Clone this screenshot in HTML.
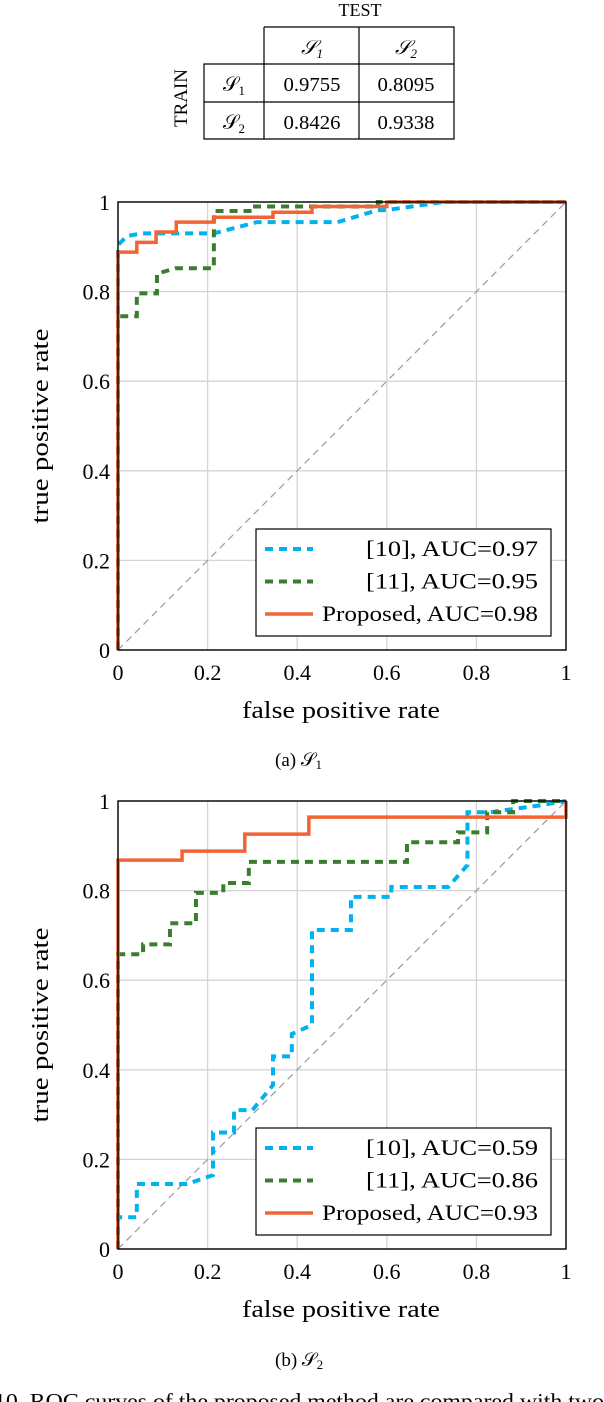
<!DOCTYPE html>
<html><head><meta charset="utf-8"><style>
body{margin:0;background:#fff;width:604px;height:1402px;overflow:hidden;position:relative;font-family:"Liberation Serif",serif;}
svg{position:absolute;left:0;top:0}
</style></head><body>
<svg id="svg" width="604" height="1402" viewBox="0 0 604 1402" font-family="Liberation Serif, serif">
<g font-size="20" text-anchor="middle">
<text x="360" y="16" font-size="18">TEST</text>
<text transform="translate(187,98) rotate(-90)" font-size="19">TRAIN</text>
<g stroke="#000" stroke-width="1.2" fill="none">
<path d="M264 27H454V139H204V64H454M264 27V139M359 27V139M204 102H454"/>
</g>
<text x="312" y="54" font-style="italic">𝒮<tspan font-size="13" dy="4">1</tspan></text>
<text x="406" y="54" font-style="italic">𝒮<tspan font-size="13" dy="4">2</tspan></text>
<text x="234" y="91">𝒮<tspan font-size="13" dy="4">1</tspan></text>
<text x="234" y="129">𝒮<tspan font-size="13" dy="4">2</tspan></text>
<text x="312" y="91" textLength="57" lengthAdjust="spacingAndGlyphs">0.9755</text>
<text x="406" y="91" textLength="57" lengthAdjust="spacingAndGlyphs">0.8095</text>
<text x="312" y="129" textLength="57" lengthAdjust="spacingAndGlyphs">0.8426</text>
<text x="406" y="129" textLength="57" lengthAdjust="spacingAndGlyphs">0.9338</text>
</g>
<text x="275" y="766" font-size="19">(a) 𝒮<tspan font-size="13" dy="3">1</tspan></text>
<text x="275" y="1366" font-size="19">(b) 𝒮<tspan font-size="13" dy="3">2</tspan></text>
<text x="-6" y="1408" font-size="21" textLength="610" lengthAdjust="spacingAndGlyphs">10.  ROC curves of the proposed method are compared with two</text>
</svg>
<script>
// Plot 1 (S1)
const p1_blue_x=[0,0,0.02,0.053,0.214,0.31,0.49,0.58,0.6,0.725,1];
const p1_blue_y=[0,0.904,0.924,0.93,0.93,0.955,0.955,0.982,0.982,1,1];
const p1_green_x=[0,0,0.042,0.042,0.087,0.087,0.128,0.214,0.214,0.3,0.3,0.58,0.58,1];
const p1_green_y=[0,0.745,0.745,0.796,0.796,0.84,0.852,0.852,0.98,0.98,0.99,0.99,1,1];
const p1_orange_x=[0,0,0.042,0.042,0.085,0.085,0.13,0.13,0.214,0.214,0.346,0.346,0.433,0.433,0.6,0.6,1];
const p1_orange_y=[0,0.888,0.888,0.91,0.91,0.933,0.933,0.955,0.955,0.966,0.966,0.977,0.977,0.99,0.99,1,1];
const p1_legend=["[10], AUC=0.97","[11], AUC=0.95","Proposed, AUC=0.98"];
// Plot 2 (S2)
const p2_blue_x=[0,0,0.042,0.042,0.154,0.212,0.212,0.259,0.259,0.3,0.346,0.346,0.388,0.388,0.433,0.433,0.52,0.52,0.61,0.61,0.737,0.78,0.78,0.83,0.94,1];
const p2_blue_y=[0,0.071,0.071,0.145,0.145,0.165,0.26,0.26,0.31,0.31,0.366,0.43,0.43,0.48,0.5,0.712,0.712,0.786,0.786,0.808,0.808,0.857,0.975,0.975,0.99,1];
const p2_green_x=[0,0,0.056,0.056,0.116,0.116,0.174,0.174,0.235,0.235,0.292,0.292,0.645,0.645,0.759,0.759,0.824,0.824,0.882,0.882,1];
const p2_green_y=[0,0.658,0.658,0.68,0.68,0.727,0.727,0.795,0.795,0.817,0.817,0.864,0.864,0.908,0.908,0.93,0.93,0.975,0.975,1,1];
const p2_orange_x=[0,0,0.143,0.143,0.283,0.283,0.426,0.426,1,1];
const p2_orange_y=[0,0.868,0.868,0.888,0.888,0.926,0.926,0.964,0.964,1];
const p2_legend=["[10], AUC=0.59","[11], AUC=0.86","Proposed, AUC=0.93"];
const tickVals=[0,0.2,0.4,0.6,0.8,1];
const tickLabels=["0","0.2","0.4","0.6","0.8","1"];

const NS="http://www.w3.org/2000/svg";
const svg=document.getElementById('svg');
function mk(tag,attrs,parent){const e=document.createElementNS(NS,tag);for(const k in attrs)e.setAttribute(k,attrs[k]);(parent||svg).appendChild(e);return e;}
const colors=["#00b2ee","#3b7d2f","#f26434"];
const legendWidths=[172,172,216];
function plot(top,name,series,legend){
  const L=118,R=566,T=top,B=top+448;
  const sx=v=>L+v*(R-L), sy=v=>B-v*(B-T);
  const g=mk('g',{});
  
  
  tickVals.forEach((v,i)=>{
    const gx=mk('line',{x1:sx(v),x2:sx(v),y1:T,y2:B,stroke:'#d4d4d4','stroke-width':1.3},g);
    
    
    const gy=mk('line',{x1:L,x2:R,y1:sy(v),y2:sy(v),stroke:'#d4d4d4','stroke-width':1.3},g);
    
    
    const tx=mk('text',{x:sx(v),y:B+30,'text-anchor':'middle','font-size':22},g);
    tx.textContent=tickLabels[i];
    
    
    const ty=mk('text',{x:L-8,y:sy(v)+8,'text-anchor':'end','font-size':22},g);
    ty.textContent=tickLabels[i];
    
    
  });
  const d=mk('line',{x1:sx(0),y1:sy(0),x2:sx(1),y2:sy(1),stroke:'#999','stroke-width':1.2,'stroke-dasharray':'7,5'},g);
  
  
  const names=['series-ref10','series-ref11','series-proposed'];
  series.forEach((s,i)=>{
    const pts=s[0].map((x,j)=>sx(x)+','+sy(s[1][j])).join(' ');
    const pl=mk('polyline',{points:pts,fill:'none',stroke:colors[i],'stroke-width':i==2?3.5:4,'stroke-dasharray':i==2?'none':'8,6'},g);
    
    
  });
  const fr=mk('rect',{x:L,y:T,width:R-L,height:B-T,fill:'none',stroke:'#000','stroke-width':1.4},g);
  
  
  const xt=mk('text',{x:242,y:B+68,'font-size':24,textLength:198,lengthAdjust:'spacingAndGlyphs'},g);
  xt.textContent='false positive rate';
  
  
  const yt=mk('text',{transform:`translate(${L-70},${(T+B)/2}) rotate(-90)`,'text-anchor':'middle','font-size':24,textLength:195,lengthAdjust:'spacingAndGlyphs'},g);
  yt.textContent='true positive rate';
  
  
  const lg=mk('g',{},g);
  
  
  const lb=mk('rect',{x:256,y:B-121,width:295,height:107,fill:'#fff',stroke:'#000','stroke-width':1.2},lg);
  
  
  legend.forEach((t,i)=>{
    const y=B-101+i*32.5;
    const ln=mk('line',{x1:265,x2:313,y1:y,y2:y,stroke:colors[i],'stroke-width':i==2?3.5:4,'stroke-dasharray':i==2?'none':'8,6'},lg);
    
    
    const tx=mk('text',{x:538-legendWidths[i],y:y+7,'font-size':22,textLength:legendWidths[i],lengthAdjust:'spacingAndGlyphs'},lg);
    tx.textContent=t;
    
    
  });
}
plot(202,'roc-chart-s1',[[p1_blue_x,p1_blue_y],[p1_green_x,p1_green_y],[p1_orange_x,p1_orange_y]],p1_legend);
plot(801,'roc-chart-s2',[[p2_blue_x,p2_blue_y],[p2_green_x,p2_green_y],[p2_orange_x,p2_orange_y]],p2_legend);
</script>
</body></html>
